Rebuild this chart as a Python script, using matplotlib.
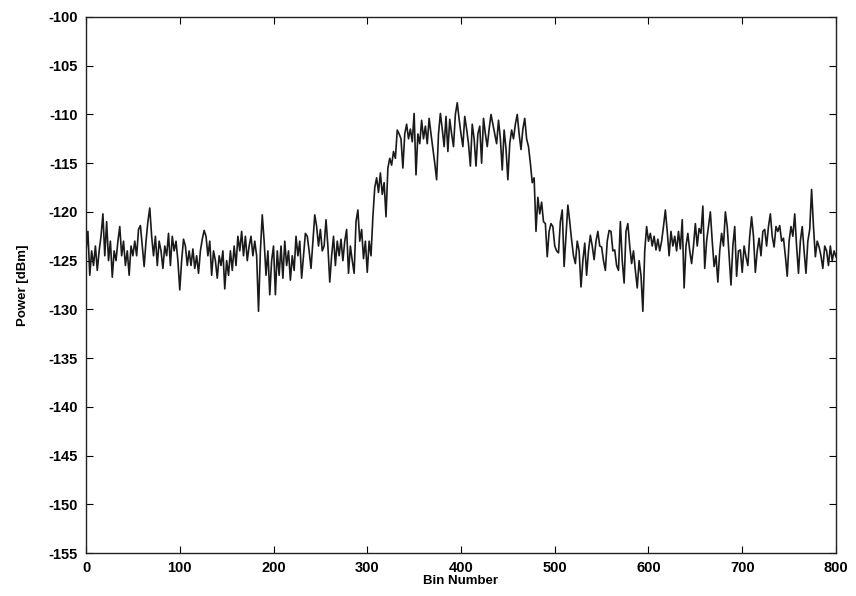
import matplotlib
matplotlib.use("Agg")
import matplotlib.pyplot as plt
import numpy as np

plt.rcParams['font.family'] = ['Liberation Sans', 'DejaVu Sans']
plt.rcParams['axes.unicode_minus'] = False

# Bin numbers (every 2nd bin) and estimated power values [dBm]
bins = list(range(0, 801, 2))
power = [
    -124.0, -122.0, -126.5, -124.0, -125.5, -123.5, -126.0, -124.0, -122.5, -120.2,
    -124.5, -121.0, -125.0, -123.0, -126.7, -124.0, -125.0, -123.0, -121.5, -124.5,
    -123.0, -125.5, -124.0, -126.5, -123.5, -124.5, -123.0, -124.5, -121.8, -121.4,
    -123.5, -125.6, -123.0, -121.0, -119.6, -122.5, -124.5, -122.5, -125.5, -123.0,
    -124.0, -125.8, -123.5, -124.5, -122.2, -125.5, -122.5, -124.0, -123.0, -125.0,
    -128.0, -125.0, -122.8, -123.5, -125.5, -124.0, -125.5, -123.8, -125.8, -124.5,
    -126.3, -124.0, -122.8, -121.9, -122.5, -124.5, -123.0, -126.5, -124.0, -125.0,
    -126.8, -124.5, -125.5, -124.0, -127.9, -125.0, -126.5, -124.0, -126.0, -123.5,
    -125.5, -122.5, -124.0, -122.0, -124.5, -122.5, -125.0, -123.5, -122.5, -124.5,
    -123.0, -124.5, -130.2, -124.0, -120.3, -123.0, -126.5, -124.0, -128.5, -125.0,
    -123.5, -128.5, -124.0, -126.5, -123.5, -126.8, -123.0, -125.5, -124.0, -127.0,
    -124.5, -126.0, -122.5, -124.5, -123.0, -126.8, -124.5, -122.2, -122.5, -124.0,
    -125.8, -123.0, -120.3, -121.5, -123.5, -121.8, -124.0, -123.5, -120.8, -123.5,
    -127.2, -124.5, -122.5, -125.5, -123.0, -124.5, -122.8, -125.0, -123.0, -121.8,
    -126.3, -123.5, -125.0, -126.3, -121.0, -119.8, -123.0, -121.8, -124.8, -123.0,
    -126.2, -123.0, -124.5, -120.5, -117.5, -116.5, -118.0, -116.0, -118.2, -117.0,
    -120.5, -115.5, -114.5, -115.2, -113.8, -114.5, -111.6, -112.0, -112.5, -115.5,
    -112.0, -111.0, -112.5, -111.5, -112.8, -109.9, -116.2, -112.0, -113.0, -110.6,
    -112.5, -111.2, -113.0, -110.4, -112.0, -113.5, -115.0, -116.7, -112.0, -109.9,
    -111.5, -113.3, -110.2, -113.8, -110.5, -112.0, -113.3, -110.0, -108.8, -110.5,
    -112.0, -113.3, -110.2, -111.5, -113.0, -115.3, -111.0, -112.5, -115.3, -112.0,
    -111.2, -115.0, -110.4, -112.0, -113.3, -111.5, -110.0, -111.0, -112.0, -113.0,
    -110.6, -112.5, -115.7, -111.6, -113.5, -116.7, -113.0, -111.6, -112.5, -111.0,
    -110.0, -112.0, -113.6, -111.5, -110.4, -112.5, -113.3, -115.0, -117.0, -116.5,
    -122.0, -118.5, -120.2, -119.0, -121.0, -121.2, -124.6, -122.0, -121.2, -121.5,
    -123.5, -124.0, -124.2, -121.0, -119.8, -125.6, -122.5, -119.3, -121.0, -122.9,
    -124.5, -125.3, -123.0, -124.0, -127.7, -125.0, -123.2, -126.5, -124.0, -122.4,
    -123.5, -124.9, -123.0, -122.0, -123.5, -123.6, -125.0, -126.0, -123.0, -121.9,
    -122.0, -124.0, -123.9, -125.5, -126.0, -121.0, -125.0, -127.3, -122.0, -121.2,
    -123.5, -125.3, -124.0, -126.0, -127.8, -125.0, -126.5, -130.2, -124.0, -121.5,
    -123.0, -122.2, -123.5, -122.5, -123.9, -122.8, -124.0, -123.0, -121.5, -119.8,
    -122.0, -124.5, -122.0, -123.5, -122.5, -124.0, -122.0, -123.8, -120.8, -127.8,
    -123.5, -122.2, -124.0, -125.3, -123.5, -121.2, -123.5, -121.7, -122.2, -119.4,
    -125.8, -123.0, -121.5, -120.0, -123.0, -125.6, -124.5, -127.2, -124.0, -122.2,
    -123.5, -120.0, -121.5, -124.5, -127.5, -123.5, -121.5, -126.6, -124.0, -123.9,
    -126.2, -123.5, -124.6, -125.5, -122.5, -120.5, -122.5, -126.2, -124.0, -122.7,
    -124.5, -122.0, -121.8, -123.5, -121.5, -120.2, -122.5, -123.6, -121.5, -122.0,
    -121.4, -123.0, -122.7, -124.5, -126.6, -123.0, -121.5, -122.5, -120.2, -123.5,
    -126.3, -123.0, -121.5, -124.0, -126.3, -123.0, -121.8, -117.7, -121.5, -124.6,
    -123.0, -123.6, -124.5, -125.8, -123.5, -124.0, -125.5, -123.5, -125.0, -124.0,
    -124.6,
]

x_ticks = [0, 100, 200, 300, 400, 500, 600, 700, 800]
y_ticks = list(range(-155, -99, 5))

fig = plt.figure(figsize=(8.56, 5.96), dpi=100)
ax = fig.add_axes([0.1005, 0.0721, 0.8761, 0.8994])
ax.plot(bins, power, color='#1a1a1a', linewidth=1.2)

ax.set_xlim(0, 800)
ax.set_ylim(-155, -100)
ax.set_xticks(x_ticks)
ax.set_yticks(y_ticks)
ax.tick_params(direction='in', top=True, right=True, length=5, width=0.8,
               labelsize=10.5, pad=6)
for lab in ax.get_xticklabels() + ax.get_yticklabels():
    lab.set_fontweight('bold')
for s in ax.spines.values():
    s.set_linewidth(1.0)
    s.set_color('#222222')

ax.set_xlabel('Bin Number', fontsize=9.5, fontweight='bold', labelpad=0)
ax.set_ylabel('Power [dBm]', fontsize=9.5, fontweight='bold', labelpad=14)

fig.savefig('out.png', dpi=100)
